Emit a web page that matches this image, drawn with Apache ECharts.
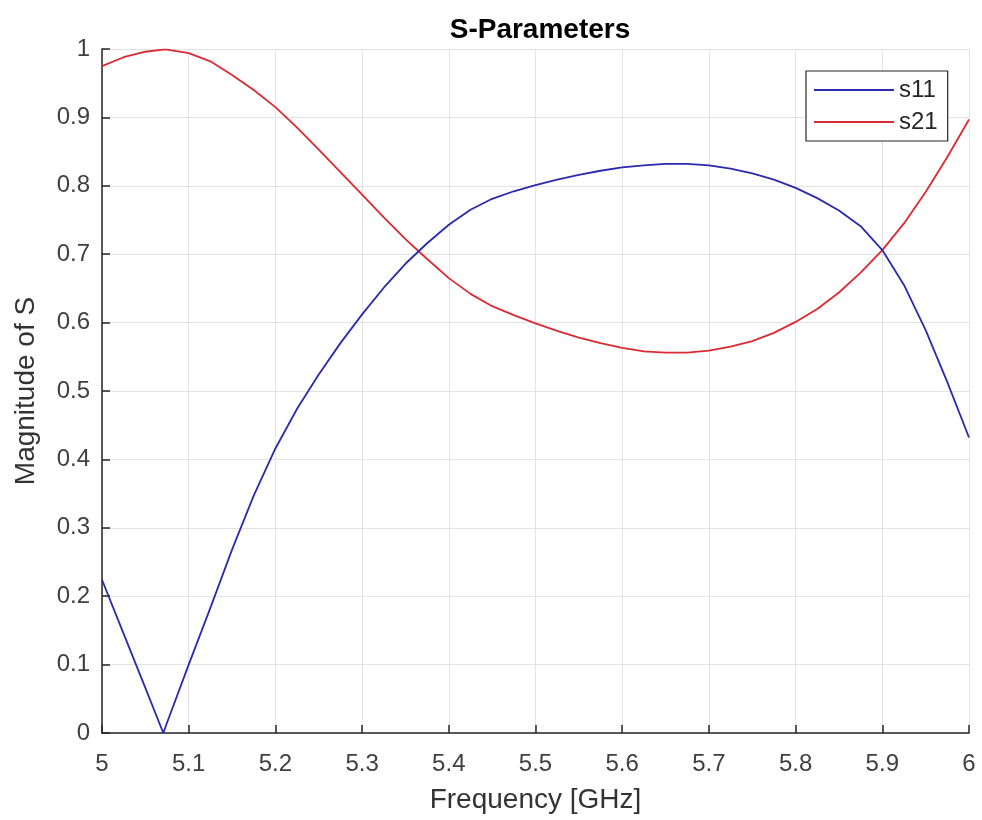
<!DOCTYPE html>
<html>
<head>
<meta charset="utf-8">
<script src="https://cdn.jsdelivr.net/npm/echarts@6/dist/echarts.min.js"></script>
<style>
html,body{margin:0;padding:0;background:#fff;}
#chart{width:982px;height:820px;}
</style>
</head>
<body>
<div id="chart"></div>
<script>
// Frequency samples (GHz)
var freq = [5.000, 5.025, 5.050, 5.0707, 5.075, 5.100, 5.125, 5.150, 5.175, 5.200, 5.225, 5.250, 5.275, 5.300, 5.325, 5.350, 5.375, 5.400, 5.425, 5.450, 5.475, 5.500, 5.525, 5.550, 5.575, 5.600, 5.625, 5.650, 5.675, 5.700, 5.725, 5.750, 5.775, 5.800, 5.825, 5.850, 5.875, 5.900, 5.925, 5.950, 5.975, 6.000];
// |S11|
var s11 = [0.224, 0.145, 0.066, 0.000, 0.015, 0.100, 0.183, 0.268, 0.347, 0.416, 0.474, 0.524, 0.570, 0.612, 0.651, 0.686, 0.716, 0.743, 0.765, 0.781, 0.792, 0.801, 0.809, 0.816, 0.822, 0.827, 0.830, 0.832, 0.832, 0.830, 0.825, 0.818, 0.809, 0.797, 0.782, 0.764, 0.741, 0.706, 0.655, 0.589, 0.513, 0.432];
// |S21|
var s21 = [0.975, 0.988, 0.996, 0.999, 0.999, 0.994, 0.982, 0.962, 0.940, 0.915, 0.885, 0.853, 0.820, 0.787, 0.754, 0.722, 0.693, 0.665, 0.642, 0.624, 0.611, 0.599, 0.588, 0.578, 0.570, 0.563, 0.558, 0.556, 0.556, 0.559, 0.565, 0.573, 0.585, 0.601, 0.620, 0.644, 0.673, 0.706, 0.745, 0.791, 0.842, 0.897];
var seriesNames = ['s11', 's21'];
var titleText = 'S-Parameters';
var xName = 'Frequency [GHz]';
var yName = 'Magnitude of S';

var FONT = '"Liberation Sans", Arial, Helvetica, sans-serif';
function pairs(ys){ return freq.map(function(f,i){ return [f, ys[i]]; }); }
function fmt(v){ return String(Math.round(v*10)/10); }

var chart = echarts.init(document.getElementById('chart'), null, {renderer:'canvas'});
chart.setOption({
  backgroundColor:'#ffffff',
  animation:false,
  title:{
    text:titleText, left:535, top:11, textAlign:'center',
    textStyle:{fontFamily:FONT, fontSize:28, fontWeight:'bold', color:'#000'}
  },
  legend:{
    orient:'vertical', left:806, top:71,
    padding:[7,10,7,8], itemGap:8, itemWidth:80, itemHeight:2,
    icon:'rect',
    backgroundColor:'#fff', borderColor:'#262626', borderWidth:1.2,
    textStyle:{fontFamily:FONT, fontSize:24, color:'#262626'},
    data:seriesNames
  },
  grid:{left:102, right:13, top:49, bottom:87, containLabel:false},
  xAxis:{
    type:'value', min:5, max:6, interval:0.1,
    name:xName, nameLocation:'middle', nameGap:53,
    nameTextStyle:{fontFamily:FONT, fontSize:28, color:'#333'},
    axisLine:{show:true, onZero:false, lineStyle:{color:'#262626', width:1.5}},
    axisTick:{show:true, inside:true, length:8, lineStyle:{color:'#262626', width:1.5}},
    axisLabel:{fontFamily:FONT, fontSize:24, color:'#404040', margin:19, formatter:fmt, showMinLabel:true, showMaxLabel:true},
    splitLine:{show:true, lineStyle:{color:'#e3e3e3', width:1}}
  },
  yAxis:{
    type:'value', min:0, max:1, interval:0.1,
    name:yName, nameLocation:'middle', nameGap:62,
    nameTextStyle:{fontFamily:FONT, fontSize:28, color:'#333'},
    axisLine:{show:true, onZero:false, lineStyle:{color:'#262626', width:1.5}},
    axisTick:{show:true, inside:true, length:8, lineStyle:{color:'#262626', width:1.5}},
    axisLabel:{fontFamily:FONT, fontSize:24, color:'#404040', margin:12, formatter:fmt, showMinLabel:true, showMaxLabel:true},
    splitLine:{show:true, lineStyle:{color:'#e3e3e3', width:1}}
  },
  series:[
    {name:seriesNames[0], type:'line', data:pairs(s11), showSymbol:false, symbol:'none', smooth:false,
     lineStyle:{color:'#2a2ab0', width:1.8}, itemStyle:{color:'#2a2ab0'}, z:3},
    {name:seriesNames[1], type:'line', data:pairs(s21), showSymbol:false, symbol:'none', smooth:false,
     lineStyle:{color:'#dd2a32', width:1.8}, itemStyle:{color:'#dd2a32'}, z:2}
  ]
});
</script>
</body>
</html>
